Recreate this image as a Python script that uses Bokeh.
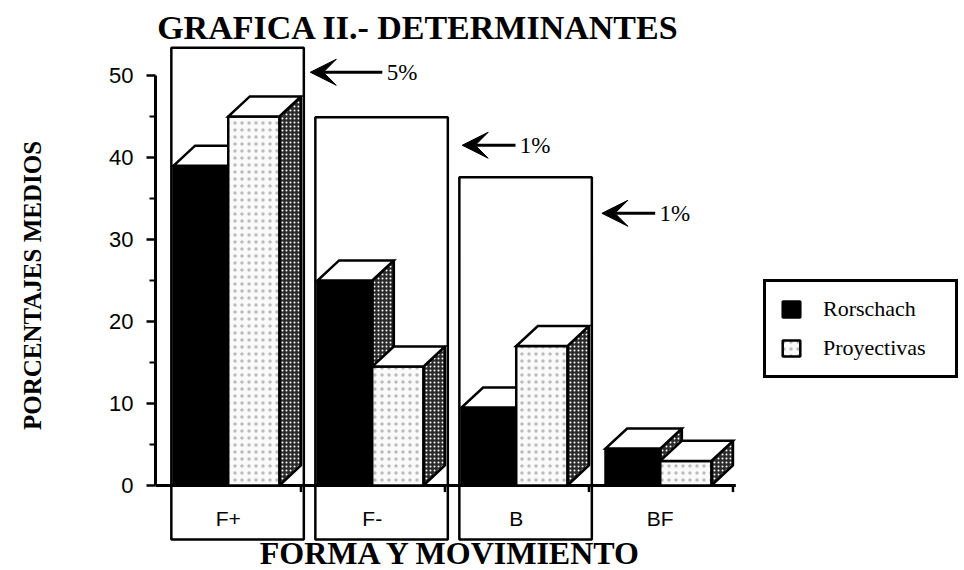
import numpy as np
from bokeh.plotting import figure
from bokeh.models import (Range1d, FixedTicker, Legend, LegendItem, Arrow,
                          VeeHead, ColumnDataSource)
from bokeh.core.properties import value
from bokeh.embed import file_html
from bokeh.resources import INLINE

# ---------------- data ----------------
categories = ["F+", "F-", "B", "BF"]
series_names = ["Rorschach", "Proyectivas"]
rorschach = [39, 25, 9.5, 4.5]
proyectivas = [45, 14.5, 17, 3.0]
y_ticks = [0, 10, 20, 30, 40, 50]
y_minor = [5, 15, 25, 35, 45]

# significance annotations (boxes around groups, arrows with levels)
sig_groups = [0, 1, 2]
sig_box_top = [53.4, 44.9, 37.6]
sig_labels = ["5%", "1%", "1%"]
sig_arrow_y = [50.4, 41.5, 33.2]
sig_arrow_gap = [0.045, 0.10, 0.07]
sig_arrow_len = [0.5, 0.37, 0.37]

title_text = "GRAFICA II.- DETERMINANTES"
x_title = "FORMA Y MOVIMIENTO"
y_title = "PORCENTAJES MEDIOS"

# ---------------- geometry ----------------
W_R, W_P = 0.38, 0.355     # front widths
DX, DY = 0.15, 2.45        # 3-D depth (x in group units, y in data units)
GROUP_W = W_R + W_P + DX
BOX_L, BOX_R = -0.015, GROUP_W + 0.02
BOX_BOTTOM = -6.6

SERIF = "Liberation Serif"
SANS = "Liberation Sans"

p = figure(width=962, height=570, output_backend="svg", toolbar_location=None,
           x_range=Range1d(-0.125, 5.479), y_range=Range1d(-10.366, 59.15),
           x_axis_location=None, y_axis_location="left", title=None,
           min_border_left=155, min_border_right=0, min_border_top=0, min_border_bottom=0)
p.outline_line_color = None
p.grid.visible = False
p.background_fill_color = "white"
p.border_fill_color = "white"

# y axis
ax = p.yaxis[0]
ax.bounds = (0, 50)
ax.ticker = FixedTicker(ticks=y_ticks, minor_ticks=y_minor)
ax.axis_line_width = 3
ax.axis_line_color = "black"
ax.major_tick_line_width = 2.5
ax.major_tick_line_color = "black"
ax.minor_tick_line_width = 2
ax.minor_tick_line_color = "black"
ax.major_tick_out = 9
ax.major_tick_in = 0
ax.minor_tick_out = 6
ax.minor_tick_in = 0
ax.major_label_standoff = 13
ax.major_label_text_font = SANS
ax.major_label_text_font_size = "22px"
ax.major_label_text_color = "black"
ax.axis_label = y_title
ax.axis_label_text_font = SERIF
ax.axis_label_text_font_style = "bold"
ax.axis_label_text_font_size = "25px"
ax.axis_label_text_color = "black"
ax.axis_label_standoff = 60

n = len(categories)
gx = np.arange(n, dtype=float)

# significance boxes (drawn first, behind bars)
sg = np.array(sig_groups, dtype=float)
p.quad(left=sg + BOX_L, right=sg + BOX_R, bottom=BOX_BOTTOM, top=sig_box_top,
       fill_color=None, line_color="black", line_width=2.5)

# x axis line and separator ticks
p.segment(x0=[-0.125], y0=[0], x1=[n - 1 + GROUP_W + 0.02], y1=[0],
          line_color="black", line_width=3)
p.segment(x0=gx + GROUP_W, y0=0, x1=gx + GROUP_W, y1=-0.8,
          line_color="black", line_width=2.5)


def bar3d(x0, w, vals, front_kw):
    vals = np.array(vals, dtype=float)
    side_xs = [[a + w, a + w + DX, a + w + DX, a + w] for a in x0]
    side_ys = [[0, DY, v + DY, v] for v in vals]
    top_xs = [[a, a + w, a + w + DX, a + DX] for a in x0]
    top_ys = [[v, v, v + DY, v + DY] for v in vals]
    p.patches(side_xs, side_ys, fill_color="#2b2b2b", hatch_pattern="dot",
              hatch_color="white", hatch_scale=4, hatch_weight=1.2,
              line_color="black", line_width=2.5)
    fr = p.quad(left=x0, right=x0 + w, bottom=0, top=vals,
                line_color="black", line_width=2.5, **front_kw)
    p.patches(top_xs, top_ys, fill_color="white", line_color="black",
              line_width=2.5, line_join="miter")
    return fr


r_front = bar3d(gx, W_R, rorschach, dict(fill_color="black"))
p_front = bar3d(gx + W_R, W_P, proyectivas,
                dict(fill_color="#fafafa", hatch_pattern="dot", hatch_color="#bbbbbb",
                     hatch_scale=7, hatch_weight=0.8))

# category labels inside boxes
p.text(x=gx + W_R, y=-4.0, text=categories, text_font=value(SANS),
       text_font_size="21px", text_align="center", text_baseline="middle",
       text_color="black")

# significance arrows and labels
tips = sg + BOX_R + np.array(sig_arrow_gap)
ends = tips + np.array(sig_arrow_len)
asrc = ColumnDataSource(dict(x0=ends, y0=sig_arrow_y, x1=tips, y1=sig_arrow_y))
p.add_layout(Arrow(end=VeeHead(size=26, fill_color="black", line_color="black", line_width=1),
                   x_start="x0", y_start="y0", x_end="x1", y_end="y1",
                   source=asrc, line_width=3, line_color="black"))
p.text(x=ends + 0.03, y=sig_arrow_y, text=sig_labels, text_font=value(SERIF),
       text_font_size="23px", text_baseline="middle", text_align="left",
       text_color="black")

# title and x title as text
p.text(x=[1.70], y=[55.9], text=[title_text], text_font=value(SERIF),
       text_font_style="bold", text_font_size="34px", text_align="center",
       text_baseline="alphabetic", text_color="black")
p.text(x=[1.93], y=[-8.29], text=[x_title], text_font=value(SERIF),
       text_font_style="bold", text_font_size="32px", text_align="center",
       text_baseline="alphabetic", text_color="black")

legend = Legend(items=[LegendItem(label=series_names[0], renderers=[r_front]),
                       LegendItem(label=series_names[1], renderers=[p_front])],
                location=(608, 192), orientation="vertical")
legend.border_line_color = "black"
legend.border_line_alpha = 1
legend.border_line_width = 3
legend.padding = 14
legend.spacing = 13
legend.margin = 0
legend.glyph_width = 22
legend.glyph_height = 20
legend.label_height = 20
legend.label_width = 118
legend.label_standoff = 21
legend.label_text_font = SERIF
legend.label_text_font_size = "22px"
legend.label_text_color = "black"
legend.background_fill_color = "white"
legend.background_fill_alpha = 1
p.add_layout(legend)

open("out.html", "w").write(file_html(p, INLINE))
